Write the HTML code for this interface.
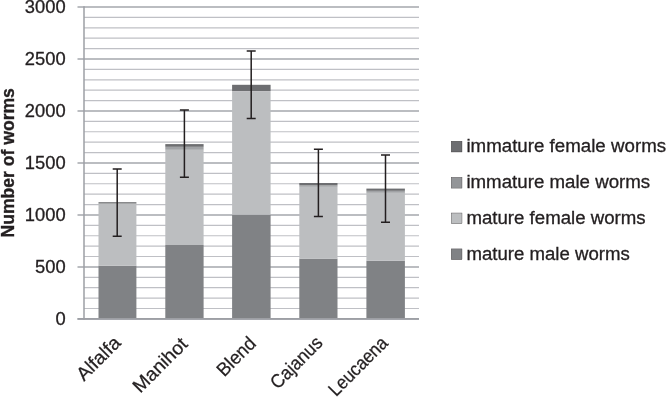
<!DOCTYPE html>
<html><head><meta charset="utf-8"><title>Number of worms</title>
<style>html,body{margin:0;padding:0;background:#fff}svg{display:block}</style></head>
<body>
<svg width="666" height="398" viewBox="0 0 666 398">
<rect width="666" height="398" fill="#fff"/>
<line x1="77.5" x2="419.0" y1="318.90" y2="318.90" stroke="#a5a7ac" stroke-width="1.5"/>
<line x1="84.0" x2="419.0" y1="308.50" y2="308.50" stroke="#bfc0c5" stroke-width="1.2"/>
<line x1="84.0" x2="419.0" y1="298.11" y2="298.11" stroke="#bfc0c5" stroke-width="1.2"/>
<line x1="84.0" x2="419.0" y1="287.71" y2="287.71" stroke="#bfc0c5" stroke-width="1.2"/>
<line x1="84.0" x2="419.0" y1="277.31" y2="277.31" stroke="#bfc0c5" stroke-width="1.2"/>
<line x1="77.5" x2="419.0" y1="266.92" y2="266.92" stroke="#a5a7ac" stroke-width="1.5"/>
<line x1="84.0" x2="419.0" y1="256.52" y2="256.52" stroke="#bfc0c5" stroke-width="1.2"/>
<line x1="84.0" x2="419.0" y1="246.12" y2="246.12" stroke="#bfc0c5" stroke-width="1.2"/>
<line x1="84.0" x2="419.0" y1="235.73" y2="235.73" stroke="#bfc0c5" stroke-width="1.2"/>
<line x1="84.0" x2="419.0" y1="225.33" y2="225.33" stroke="#bfc0c5" stroke-width="1.2"/>
<line x1="77.5" x2="419.0" y1="214.93" y2="214.93" stroke="#a5a7ac" stroke-width="1.5"/>
<line x1="84.0" x2="419.0" y1="204.54" y2="204.54" stroke="#bfc0c5" stroke-width="1.2"/>
<line x1="84.0" x2="419.0" y1="194.14" y2="194.14" stroke="#bfc0c5" stroke-width="1.2"/>
<line x1="84.0" x2="419.0" y1="183.74" y2="183.74" stroke="#bfc0c5" stroke-width="1.2"/>
<line x1="84.0" x2="419.0" y1="173.35" y2="173.35" stroke="#bfc0c5" stroke-width="1.2"/>
<line x1="77.5" x2="419.0" y1="162.95" y2="162.95" stroke="#a5a7ac" stroke-width="1.5"/>
<line x1="84.0" x2="419.0" y1="152.55" y2="152.55" stroke="#bfc0c5" stroke-width="1.2"/>
<line x1="84.0" x2="419.0" y1="142.16" y2="142.16" stroke="#bfc0c5" stroke-width="1.2"/>
<line x1="84.0" x2="419.0" y1="131.76" y2="131.76" stroke="#bfc0c5" stroke-width="1.2"/>
<line x1="84.0" x2="419.0" y1="121.36" y2="121.36" stroke="#bfc0c5" stroke-width="1.2"/>
<line x1="77.5" x2="419.0" y1="110.97" y2="110.97" stroke="#a5a7ac" stroke-width="1.5"/>
<line x1="84.0" x2="419.0" y1="100.57" y2="100.57" stroke="#bfc0c5" stroke-width="1.2"/>
<line x1="84.0" x2="419.0" y1="90.17" y2="90.17" stroke="#bfc0c5" stroke-width="1.2"/>
<line x1="84.0" x2="419.0" y1="79.78" y2="79.78" stroke="#bfc0c5" stroke-width="1.2"/>
<line x1="84.0" x2="419.0" y1="69.38" y2="69.38" stroke="#bfc0c5" stroke-width="1.2"/>
<line x1="77.5" x2="419.0" y1="58.98" y2="58.98" stroke="#a5a7ac" stroke-width="1.5"/>
<line x1="84.0" x2="419.0" y1="48.59" y2="48.59" stroke="#bfc0c5" stroke-width="1.2"/>
<line x1="84.0" x2="419.0" y1="38.19" y2="38.19" stroke="#bfc0c5" stroke-width="1.2"/>
<line x1="84.0" x2="419.0" y1="27.79" y2="27.79" stroke="#bfc0c5" stroke-width="1.2"/>
<line x1="84.0" x2="419.0" y1="17.40" y2="17.40" stroke="#bfc0c5" stroke-width="1.2"/>
<line x1="77.5" x2="419.0" y1="7.00" y2="7.00" stroke="#a5a7ac" stroke-width="1.5"/>
<rect x="98.5" y="265.70" width="37.9" height="53.20" fill="#808285"/>
<rect x="98.5" y="203.50" width="37.9" height="62.20" fill="#bcbec0"/>
<rect x="98.5" y="203.50" width="37.9" height="0.00" fill="#a0a2a5"/>
<rect x="98.5" y="202.20" width="37.9" height="1.30" fill="#6d6e71"/>
<rect x="165.3" y="245.00" width="38.3" height="73.90" fill="#808285"/>
<rect x="165.3" y="149.80" width="38.3" height="95.20" fill="#bcbec0"/>
<rect x="165.3" y="146.80" width="38.3" height="3.00" fill="#a0a2a5"/>
<rect x="165.3" y="144.10" width="38.3" height="2.70" fill="#6d6e71"/>
<rect x="232.1" y="214.70" width="38.5" height="104.20" fill="#808285"/>
<rect x="232.1" y="91.30" width="38.5" height="123.40" fill="#bcbec0"/>
<rect x="232.1" y="91.00" width="38.5" height="0.30" fill="#a0a2a5"/>
<rect x="232.1" y="84.80" width="38.5" height="6.20" fill="#6d6e71"/>
<rect x="299.3" y="258.60" width="38.2" height="60.30" fill="#808285"/>
<rect x="299.3" y="186.80" width="38.2" height="71.80" fill="#bcbec0"/>
<rect x="299.3" y="185.20" width="38.2" height="1.60" fill="#a0a2a5"/>
<rect x="299.3" y="183.00" width="38.2" height="2.20" fill="#6d6e71"/>
<rect x="366.4" y="260.80" width="38.5" height="58.10" fill="#808285"/>
<rect x="366.4" y="192.80" width="38.5" height="68.00" fill="#bcbec0"/>
<rect x="366.4" y="190.80" width="38.5" height="2.00" fill="#a0a2a5"/>
<rect x="366.4" y="188.60" width="38.5" height="2.20" fill="#6d6e71"/>
<line x1="84.0" x2="84.0" y1="6.25" y2="319.65" stroke="#9d9fa4" stroke-width="1.5"/>
<line x1="77.5" x2="419.0" y1="318.9" y2="318.9" stroke="#9d9fa4" stroke-width="1.6"/>
<path d="M112.7 168.9H121.7M117.2 168.9V236.3M112.7 236.3H121.7" stroke="#231f20" stroke-width="1.5" fill="none"/>
<path d="M179.9 110.1H188.9M184.4 110.1V177.3M179.9 177.3H188.9" stroke="#231f20" stroke-width="1.5" fill="none"/>
<path d="M246.7 50.9H255.7M251.2 50.9V118.4M246.7 118.4H255.7" stroke="#231f20" stroke-width="1.5" fill="none"/>
<path d="M313.9 149.3H322.9M318.4 149.3V216.5M313.9 216.5H322.9" stroke="#231f20" stroke-width="1.5" fill="none"/>
<path d="M381.0 154.9H390.0M385.5 154.9V222.2M381.0 222.2H390.0" stroke="#231f20" stroke-width="1.5" fill="none"/>
<g font-family="'Liberation Sans', sans-serif" font-size="17.5" fill="#231f20" stroke="#231f20" stroke-width="0.3" text-anchor="end">
<text x="65.6" y="325.1" textLength="10.2" lengthAdjust="spacingAndGlyphs">0</text>
<text x="65.6" y="273.1" textLength="30.6" lengthAdjust="spacingAndGlyphs">500</text>
<text x="65.6" y="221.1" textLength="40.8" lengthAdjust="spacingAndGlyphs">1000</text>
<text x="65.6" y="169.1" textLength="40.8" lengthAdjust="spacingAndGlyphs">1500</text>
<text x="65.6" y="117.2" textLength="40.8" lengthAdjust="spacingAndGlyphs">2000</text>
<text x="65.6" y="65.2" textLength="40.8" lengthAdjust="spacingAndGlyphs">2500</text>
<text x="65.6" y="13.2" textLength="40.8" lengthAdjust="spacingAndGlyphs">3000</text>
</g>
<text transform="translate(13.9 237.5) rotate(-90)" font-family="'Liberation Sans', sans-serif" font-weight="bold" font-size="17.8" fill="#231f20" stroke="#231f20" stroke-width="0.35" textLength="149.4" lengthAdjust="spacingAndGlyphs">Number of worms</text>
<g font-family="'Liberation Sans', sans-serif" font-size="19" fill="#231f20" stroke="#231f20" stroke-width="0.25" text-anchor="end">
<text transform="translate(121.8 344.0) rotate(-45)" textLength="53.5" lengthAdjust="spacingAndGlyphs">Alfalfa</text>
<text transform="translate(188.8 345.3) rotate(-45)" textLength="68.6" lengthAdjust="spacingAndGlyphs">Manihot</text>
<text transform="translate(257.2 344.6) rotate(-45)" textLength="46.6" lengthAdjust="spacingAndGlyphs">Blend</text>
<text transform="translate(323.8 344.0) rotate(-45)" textLength="65.2" lengthAdjust="spacingAndGlyphs">Cajanus</text>
<text transform="translate(389.0 344.2) rotate(-45)" textLength="75.0" lengthAdjust="spacingAndGlyphs">Leucaena</text>
</g>
<g font-family="'Liberation Sans', sans-serif" font-size="17.6" fill="#231f20" stroke="#231f20" stroke-width="0.3">
<rect x="451.2" y="141.2" width="10.8" height="10.8" fill="#6d6e71"/>
<text x="466.4" y="152.0" textLength="199.70000000000002" lengthAdjust="spacingAndGlyphs">immature female worms</text>
<rect x="451.2" y="177.3" width="10.8" height="10.8" fill="#939598"/>
<text x="466.4" y="188.1" textLength="183.8" lengthAdjust="spacingAndGlyphs">immature male worms</text>
<rect x="451.2" y="213.0" width="10.8" height="10.8" fill="#bcbec0"/>
<text x="466.4" y="223.8" textLength="179.3" lengthAdjust="spacingAndGlyphs">mature female worms</text>
<rect x="451.2" y="248.9" width="10.8" height="10.8" fill="#808285"/>
<text x="466.4" y="259.7" textLength="163.4" lengthAdjust="spacingAndGlyphs">mature male worms</text>
</g>
</svg>
</body></html>
